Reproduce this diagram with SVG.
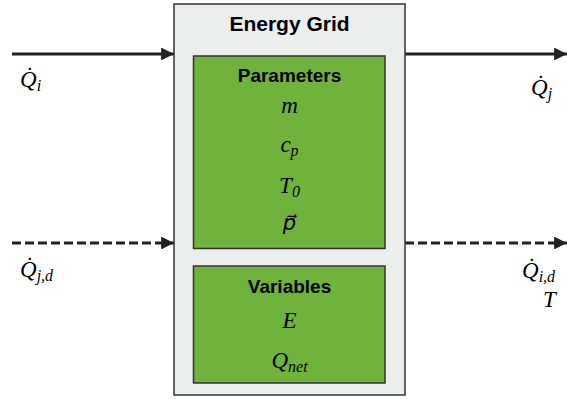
<svg xmlns="http://www.w3.org/2000/svg" width="567" height="399" viewBox="0 0 567 399">
<style>
.box{fill:#ECEDED;stroke:#333;stroke-width:1.5}
.grn{fill:#6FB23C;stroke:#333;stroke-width:1.5}
.ttl{font-family:"Liberation Sans",Arial,sans-serif;font-weight:bold;font-size:21px;fill:#000;text-anchor:middle}
.hd{font-family:"Liberation Sans",Arial,sans-serif;font-weight:bold;font-size:19px;fill:#000;text-anchor:middle}
.m{font-family:"Liberation Serif","DejaVu Serif",serif;font-style:italic;font-size:23px;fill:#000}
.mc{text-anchor:middle}
.sub{font-size:16px}
.vec{font-family:"DejaVu Sans",sans-serif;font-size:21px}
.ln{stroke:#222;stroke-width:3;fill:none}
.dash{stroke-dasharray:9 4}
</style>
<defs>
<marker id="ah" viewBox="0 0 10 10" refX="10" refY="5" markerWidth="4.3" markerHeight="4.3" markerUnits="strokeWidth" orient="auto">
<path d="M0,0 L10,5 L0,10 z" fill="#222"/>
</marker>
</defs>
<g id="connectors">
<line class="ln" x1="12" y1="54" x2="174" y2="54" marker-end="url(#ah)"/>
<line class="ln" x1="405" y1="54" x2="567" y2="54" marker-end="url(#ah)"/>
<line class="ln dash" x1="12" y1="243" x2="174" y2="243" marker-end="url(#ah)"/>
<line class="ln dash" x1="405" y1="243" x2="567" y2="243" marker-end="url(#ah)"/>
<text class="m" x="20" y="87">Q̇<tspan class="sub" dy="4">i</tspan></text>
<text class="m" x="20" y="277">Q̇<tspan class="sub" dy="4">j,d</tspan></text>
<text class="m" x="531" y="95">Q̇<tspan class="sub" dy="4">j</tspan></text>
<text class="m" x="522" y="278">Q̇<tspan class="sub" dy="4">i,d</tspan></text>
<text class="m" x="543" y="307">T</text>
</g>
<g id="energy-grid">
<rect class="box" x="174" y="4" width="231" height="391"/>
<text class="ttl" x="289.5" y="31">Energy Grid</text>
</g>
<g id="parameters">
<rect class="grn" x="193.5" y="56" width="191.5" height="192.5"/>
<text class="hd" x="289.5" y="82">Parameters</text>
<text class="m mc" x="289.5" y="112.5">m</text>
<text class="m mc" x="289.5" y="152">c<tspan class="sub" dy="4">p</tspan></text>
<text class="m mc" x="289.5" y="193">T<tspan class="sub" dy="4">0</tspan></text>
<text class="m mc vec" x="289.5" y="230">p⃗</text>
</g>
<g id="variables">
<rect class="grn" x="193.5" y="266" width="191.5" height="117"/>
<text class="hd" x="289.5" y="293">Variables</text>
<text class="m mc" x="289.5" y="328">E</text>
<text class="m mc" x="289.5" y="368">Q<tspan class="sub" dy="4">net</tspan></text>
</g>
</svg>
